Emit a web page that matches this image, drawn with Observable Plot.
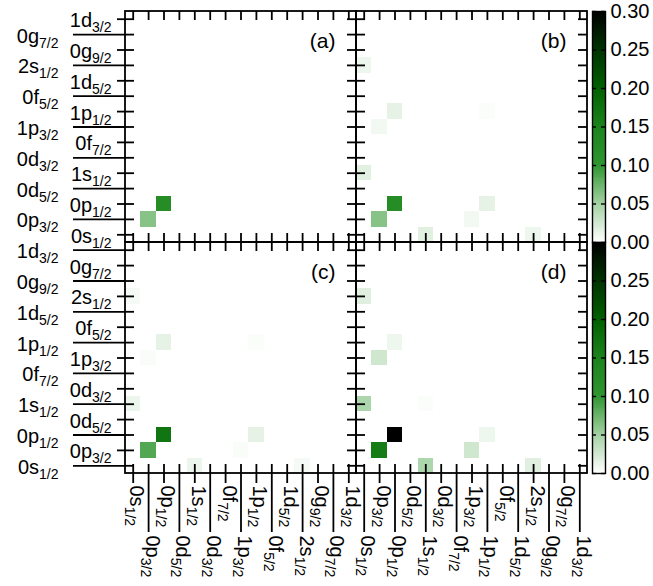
<!DOCTYPE html>
<html><head><meta charset="utf-8">
<script src="https://cdn.jsdelivr.net/npm/d3@7"></script>
<script src="https://cdn.jsdelivr.net/npm/@observablehq/plot@0.6"></script>
<style>
html,body{margin:0;padding:0;background:#fff;}
#chart{position:relative;width:653px;height:586px;overflow:hidden;background:#fff;}
#chart svg{position:absolute;}
</style></head><body><div id="chart"></div>
<script>
// ---- data ----
const orbitals = ["0s1/2","0p3/2","0p1/2","0d5/2","1s1/2","0d3/2","0f7/2","1p3/2","1p1/2","0f5/2","1d5/2","2s1/2","0g9/2","0g7/2","1d3/2"];
const panelLabels = ["(a)","(b)","(c)","(d)"];
// non-zero matrix elements: [row orbital (y), column orbital (x), value]
const cellsA = [
  ["0p3/2","0p3/2",0.062],
  ["0p1/2","0p1/2",0.125]
];
const cellsB = [
  ["0p3/2","0p3/2",0.062],
  ["0p1/2","0p1/2",0.125],
  ["0s1/2","1s1/2",0.016],
  ["1s1/2","0s1/2",0.016],
  ["0s1/2","2s1/2",0.009],
  ["2s1/2","0s1/2",0.009],
  ["0p3/2","1p3/2",0.007],
  ["1p3/2","0p3/2",0.007],
  ["0p1/2","1p1/2",0.014],
  ["1p1/2","0p1/2",0.014],
  ["1p1/2","1p1/2",0.002]
];
const cellsC = [
  ["0p3/2","0p3/2",0.085],
  ["0p1/2","0p1/2",0.170],
  ["0s1/2","1s1/2",0.010],
  ["1s1/2","0s1/2",0.010],
  ["0s1/2","2s1/2",0.005],
  ["2s1/2","0s1/2",0.005],
  ["0p3/2","1p3/2",0.003],
  ["1p3/2","0p3/2",0.003],
  ["0p1/2","1p1/2",0.014],
  ["1p1/2","0p1/2",0.014],
  ["1p1/2","1p1/2",0.002]
];
const cellsD = [
  ["0p3/2","0p3/2",0.160],
  ["0p1/2","0p1/2",0.300],
  ["0s1/2","1s1/2",0.045],
  ["1s1/2","0s1/2",0.045],
  ["0s1/2","2s1/2",0.017],
  ["2s1/2","0s1/2",0.017],
  ["0p3/2","1p3/2",0.026],
  ["1p3/2","0p3/2",0.026],
  ["0p1/2","1p1/2",0.009],
  ["1p1/2","0p1/2",0.009],
  ["1s1/2","1s1/2",0.002]
];
const cbTicksTop = [0, 0.05, 0.10, 0.15, 0.20, 0.25, 0.30];
const cbTicksBottom = [0, 0.05, 0.10, 0.15, 0.20, 0.25];
const colorStops = [0, 0.05, 0.10, 0.15, 0.20, 0.25, 0.30];
const colorRange = ["#ffffff", "#a3d1a3", "#2f952f", "#1c841c", "#006000", "#003300", "#000000"];

// ---- layout / style ----
const FONT = "'Liberation Sans', Arial, Helvetica, sans-serif";
const FS = 20, SUB = 14;
const n = orbitals.length;
const W = 653, H = 586, mL = 125, mR = 66, mT = 11, mB = 113;
const ux = (W - mL - mR) / (2 * n), uy = (H - mT - mB) / (2 * n);
const tickIn = 9, outNear = 8, outFar = 52, botNear = 10, botFar = 59;
const SW = 1.8;
const colorSpec = {type: "linear", domain: colorStops, range: colorRange, interpolate: "rgb"};

const panels = panelLabels.map((label, k) => ({label, col: k % 2, row: k < 2 ? 1 : 0, cells: [cellsA, cellsB, cellsC, cellsD][k]}));
const idx = Object.fromEntries(orbitals.map((o, i) => [o, i]));
const cellData = panels.flatMap(p => p.cells.map(([yo, xo, v]) => ({x: p.col * n + idx[xo], y: p.row * n + idx[yo], v})));

const vSegs = [], hSegs = [];
for (const p of panels) {
  const x0 = p.col * n - 0.5, x1 = p.col * n + n - 0.5, y0 = p.row * n - 0.5, y1 = p.row * n + n - 0.5;
  orbitals.forEach((_, i) => {
    const gx = p.col * n + i, gy = p.row * n + i;
    vSegs.push({x: gx, y1: y1, y2: y1 - tickIn / uy});
    vSegs.push({x: gx, y1: y0, y2: y0 + tickIn / uy});
    hSegs.push({y: gy, x1: x0, x2: x0 + tickIn / ux});
    hSegs.push({y: gy, x1: x1, x2: x1 - tickIn / ux});
  });
}
const yItems = d3.range(2 * n).map(g => ({g, name: orbitals[g % n], near: g % 2 === 1}));
const xItems = d3.range(2 * n).map(g => ({g, name: orbitals[g % n], near: g % 2 === 0}));
yItems.forEach(d => hSegs.push({y: d.g, x1: -0.5, x2: -0.5 - (d.near ? outNear : outFar) / ux}));
xItems.forEach(d => vSegs.push({x: d.g, y1: -0.5, y2: -0.5 - (d.near ? botNear : botFar) / uy}));

function subscriptify(svg) {
  d3.select(svg).selectAll("text").each(function () {
    const m = /^(\d[spdfg])(\d\/2)$/.exec(this.textContent);
    if (!m) return;
    this.textContent = "";
    d3.select(this).append("tspan").text(m[1]);
    d3.select(this).append("tspan").style("font-size", SUB + "px").attr("dy", 5).text(m[2]);
  });
}

const main = Plot.plot({
  width: W, height: H, marginLeft: mL, marginRight: mR, marginTop: mT, marginBottom: mB,
  style: {fontFamily: FONT, fontSize: FS + "px", background: "white", overflow: "visible"},
  x: {domain: [-0.5, 2 * n - 0.5], axis: null},
  y: {domain: [-0.5, 2 * n - 0.5], axis: null},
  color: colorSpec,
  marks: [
    Plot.rect(cellData, {x1: d => d.x - 0.5, x2: d => d.x + 0.5, y1: d => d.y - 0.5, y2: d => d.y + 0.5, fill: "v", shapeRendering: "crispEdges"}),
    Plot.rect(panels, {x1: p => p.col * n - 0.5, x2: p => p.col * n + n - 0.5, y1: p => p.row * n - 0.5, y2: p => p.row * n + n - 0.5, fill: "none", stroke: "black", strokeWidth: SW}),
    Plot.ruleX(vSegs, {x: "x", y1: "y1", y2: "y2", stroke: "black", strokeWidth: SW}),
    Plot.ruleY(hSegs, {y: "y", x1: "x1", x2: "x2", stroke: "black", strokeWidth: SW}),
    Plot.text(yItems.filter(d => d.near), {frameAnchor: "left", y: "g", text: "name", textAnchor: "end", dx: -14, dy: 1.5, fontSize: FS, fill: "black"}),
    Plot.text(yItems.filter(d => !d.near), {frameAnchor: "left", y: "g", text: "name", textAnchor: "end", dx: -67, dy: 1.5, fontSize: FS, fill: "black"}),
    Plot.text(xItems.filter(d => d.near), {frameAnchor: "bottom", x: "g", text: "name", rotate: 90, textAnchor: "start", dx: -3, dy: 12, fontSize: FS, fill: "black"}),
    Plot.text(xItems.filter(d => !d.near), {frameAnchor: "bottom", x: "g", text: "name", rotate: 90, textAnchor: "start", dx: -3, dy: 62, fontSize: FS, fill: "black"}),
    Plot.text(panels, {x: p => p.col * n + n - 0.5, y: p => p.row * n + n - 0.5, text: "label", textAnchor: "end", dx: -21, dy: 30, fontSize: FS + 1, fill: "black"})
  ]
});
subscriptify(main);
main.style.left = "0px"; main.style.top = "0px";
document.getElementById("chart").appendChild(main);

function colorbar(ticks) {
  const step = 0.0025;
  const ramp = d3.range(0, 0.3, step);
  return Plot.plot({
    width: 61, height: 254, marginLeft: 0, marginRight: 48, marginTop: 11, marginBottom: 12,
    style: {fontFamily: FONT, fontSize: FS + "px", background: "transparent", overflow: "visible"},
    y: {domain: [0, 0.3], axis: null},
    color: colorSpec,
    marks: [
      Plot.rect(ramp, {y1: d => d, y2: d => Math.min(0.3, d + step * 1.5), fill: d => d + step / 2, shapeRendering: "crispEdges"}),
      Plot.tickY(ticks, {y: d => d, insetRight: 9, stroke: "black", strokeWidth: 1.4}),
      Plot.tickY(ticks, {y: d => d, insetLeft: 9, stroke: "black", strokeWidth: 1.4}),
      Plot.frame({stroke: "black", strokeWidth: 1.4}),
      Plot.text(ticks, {y: d => d, text: d => d.toFixed(2), frameAnchor: "right", textAnchor: "start", dx: 5, fontSize: FS, fill: "black"})
    ]
  });
}
const cb1 = colorbar(cbTicksTop);
cb1.style.left = "592px"; cb1.style.top = "0px";
const cb2 = colorbar(cbTicksBottom);
cb2.style.left = "592px"; cb2.style.top = "231px";
document.getElementById("chart").appendChild(cb1);
document.getElementById("chart").appendChild(cb2);
</script>
</body></html>
